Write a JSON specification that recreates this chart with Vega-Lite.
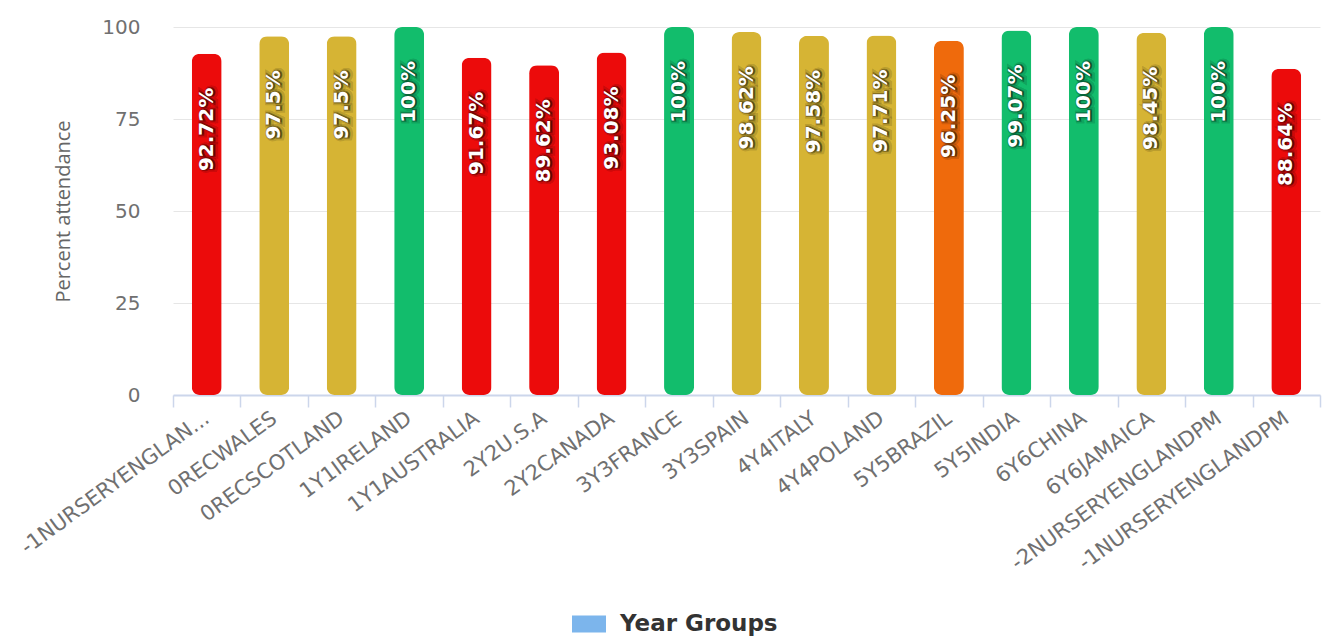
{
  "$schema": "https://vega.github.io/schema/vega-lite/v6.json",
  "autosize": {"type": "none"},
  "padding": {"left": 173, "top": 27, "right": 4, "bottom": 249},
  "width": 1147,
  "height": 368,
  "background": "white",
  "config": {"view": {"stroke": null}},
  "data": {
    "values": [
      {"group": "-1NURSERYENGLANDAM", "pct": 92.72, "series": "Year Groups"},
      {"group": "0RECWALES", "pct": 97.5, "series": "Year Groups"},
      {"group": "0RECSCOTLAND", "pct": 97.5, "series": "Year Groups"},
      {"group": "1Y1IRELAND", "pct": 100, "series": "Year Groups"},
      {"group": "1Y1AUSTRALIA", "pct": 91.67, "series": "Year Groups"},
      {"group": "2Y2U.S.A", "pct": 89.62, "series": "Year Groups"},
      {"group": "2Y2CANADA", "pct": 93.08, "series": "Year Groups"},
      {"group": "3Y3FRANCE", "pct": 100, "series": "Year Groups"},
      {"group": "3Y3SPAIN", "pct": 98.62, "series": "Year Groups"},
      {"group": "4Y4ITALY", "pct": 97.58, "series": "Year Groups"},
      {"group": "4Y4POLAND", "pct": 97.71, "series": "Year Groups"},
      {"group": "5Y5BRAZIL", "pct": 96.25, "series": "Year Groups"},
      {"group": "5Y5INDIA", "pct": 99.07, "series": "Year Groups"},
      {"group": "6Y6CHINA", "pct": 100, "series": "Year Groups"},
      {"group": "6Y6JAMAICA", "pct": 98.45, "series": "Year Groups"},
      {"group": "-2NURSERYENGLANDPM", "pct": 100, "series": "Year Groups"},
      {"group": "-1NURSERYENGLANDPM", "pct": 88.64, "series": "Year Groups"}
    ]
  },
  "encoding": {
    "x": {
      "field": "group",
      "type": "nominal",
      "sort": null,
      "scale": {"paddingInner": 0, "paddingOuter": 0},
      "axis": {
        "title": null,
        "labelAngle": -36,
        "labelAlign": "right",
        "labelBaseline": "middle",
        "labelFont": "DejaVu Sans",
        "labelFontSize": 21,
        "labelColor": "#707070",
        "labelPadding": 9,
        "labelLimit": 400,
        "labelOverlap": false,
        "labelExpr": "datum.value == '-1NURSERYENGLANDAM' ? '-1NURSERYENGLAN...' : datum.value",
        "domainColor": "#ccd6eb",
        "domainWidth": 2,
        "tickColor": "#ccd6eb",
        "tickSize": 12,
        "tickWidth": 1.5,
        "tickBand": "extent",
        "grid": false
      }
    },
    "y": {
      "field": "pct",
      "type": "quantitative",
      "scale": {"domain": [0, 100], "nice": false},
      "axis": {
        "title": "Percent attendance",
        "values": [0, 25, 50, 75, 100],
        "domain": false,
        "ticks": false,
        "labelFont": "DejaVu Sans",
        "labelFontSize": 20,
        "labelColor": "#707070",
        "labelPadding": 33,
        "gridColor": "#e6e6e6",
        "gridWidth": 1,
        "titleFont": "Open Sans",
        "titleFontSize": 20,
        "titleFontWeight": "normal",
        "titleColor": "#666666",
        "titlePadding": 28
      }
    }
  },
  "layer": [
    {
      "mark": {"type": "bar", "cornerRadius": 8, "width": {"band": 0.444}},
      "encoding": {
        "fill": {
          "field": "pct",
          "type": "quantitative",
          "scale": {"type": "threshold", "domain": [96, 97, 99], "range": ["#ec0b0b", "#ef6a0c", "#d6b434", "#12bd6c"]},
          "legend": null
        }
      }
    },
    {
      "mark": {"type": "point", "filled": true, "opacity": 0},
      "encoding": {
        "color": {
          "field": "series",
          "type": "nominal",
          "scale": {"range": ["#7cb5ec"]},
          "legend": {
            "title": null,
            "orient": "none",
            "legendX": 399,
            "legendY": 580,
            "direction": "horizontal",
            "symbolType": "M-1,-0.5H1V0.5H-1Z",
            "symbolSize": 1156,
            "symbolStrokeWidth": 0,
            "symbolOpacity": 1,
            "symbolFillColor": "#7cb5ec",
            "labelFont": "DejaVu Sans",
            "labelFontSize": 23,
            "labelFontWeight": "bold",
            "labelColor": "#333333",
            "labelOffset": 14
          }
        }
      }
    },
    {
      "mark": {
        "type": "text", "angle": 270, "align": "right", "baseline": "middle",
        "dx": -34, "dy": 2, "font": "DejaVu Sans", "fontSize": 20, "fontWeight": "bold",
        "fill": "#000000", "fillOpacity": 0.25, "stroke": "#000000", "strokeOpacity": 0.15, "strokeWidth": 6,
        "text": {"expr": "format(datum.pct, '.4~r') + '%'"}
      },
      "encoding": {}
    },
    {
      "mark": {
        "type": "text", "angle": 270, "align": "right", "baseline": "middle",
        "dx": -34, "dy": 1, "font": "DejaVu Sans", "fontSize": 20, "fontWeight": "bold",
        "fill": "#000000", "fillOpacity": 0.3, "stroke": "#000000", "strokeOpacity": 0.3, "strokeWidth": 2.5,
        "text": {"expr": "format(datum.pct, '.4~r') + '%'"}
      },
      "encoding": {}
    },
    {
      "mark": {
        "type": "text", "angle": 270, "align": "right", "baseline": "middle",
        "dx": -34, "font": "DejaVu Sans", "fontSize": 20, "fontWeight": "bold",
        "fill": "#ffffff",
        "text": {"expr": "format(datum.pct, '.4~r') + '%'"}
      },
      "encoding": {}
    }
  ]
}
